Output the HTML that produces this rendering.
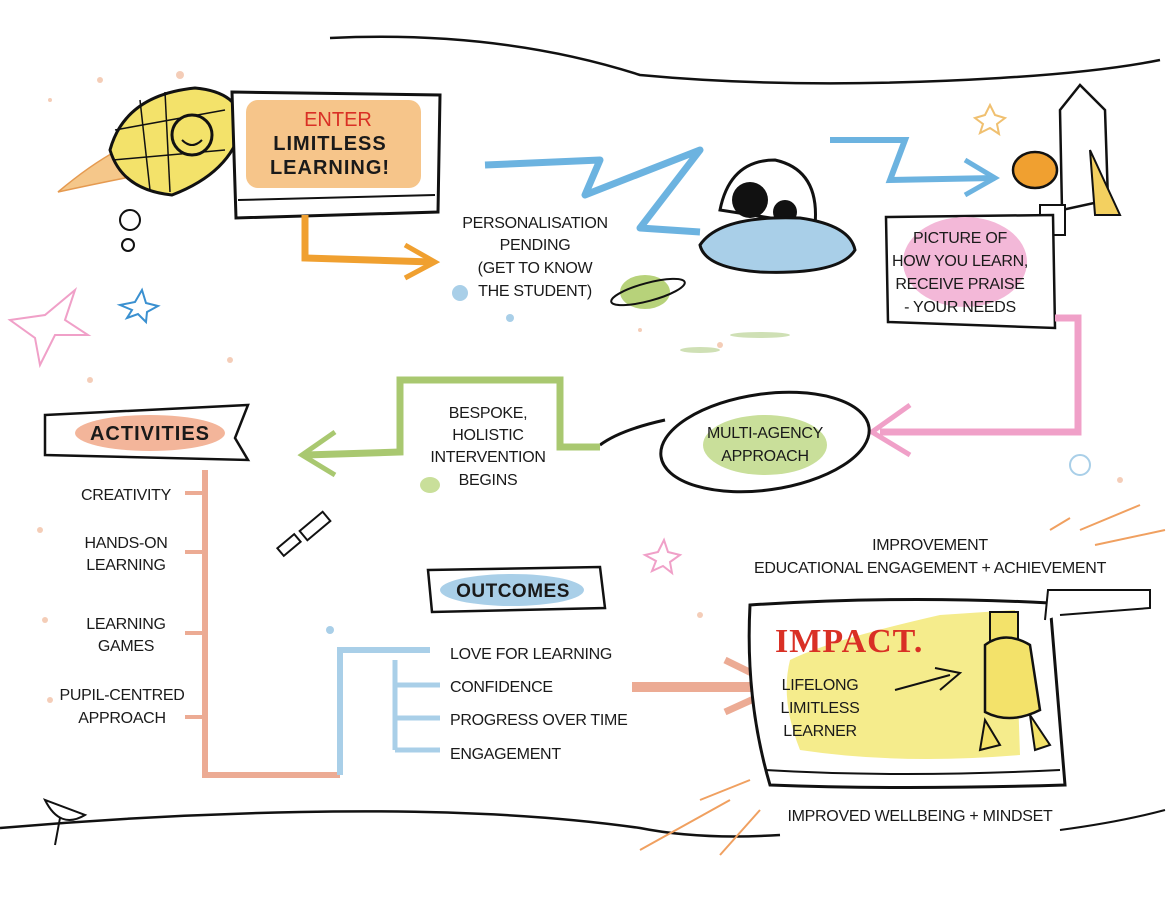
<!DOCTYPE html>
<html><head><meta charset="utf-8"><style>
html,body{margin:0;padding:0;background:#fff;}
svg{display:block}
text{font-family:"Liberation Sans",sans-serif;fill:#1a1a1a;}
.t{font-size:16px;letter-spacing:-0.3px}
</style></head><body>
<svg width="1170" height="912" viewBox="0 0 1170 912" xmlns="http://www.w3.org/2000/svg">
<rect width="1170" height="912" fill="#fff"/>
<path d="M330 38 Q500 30 640 75 Q800 90 1000 78 Q1100 72 1160 60" stroke="#111" stroke-width="2.5" fill="none"/>
<path d="M0 828 Q150 815 300 812 Q500 808 640 828 Q700 840 780 835" stroke="#111" stroke-width="2.5" fill="none"/>
<path d="M1060 830 Q1120 822 1165 810" stroke="#111" stroke-width="2" fill="none"/>
<g fill="#f0b89a" opacity="0.7">
<circle cx="100" cy="80" r="3"/><circle cx="180" cy="75" r="4"/><circle cx="50" cy="100" r="2"/><circle cx="230" cy="360" r="3"/><circle cx="90" cy="380" r="3"/><circle cx="40" cy="530" r="3"/><circle cx="45" cy="620" r="3"/><circle cx="50" cy="700" r="3"/><circle cx="700" cy="615" r="3"/><circle cx="1120" cy="480" r="3"/><circle cx="640" cy="330" r="2"/><circle cx="720" cy="345" r="3"/>
</g>
<g fill="#cfe0b5"><ellipse cx="760" cy="335" rx="30" ry="3"/><ellipse cx="700" cy="350" rx="20" ry="3"/></g>
<g fill="#a9cfe8"><circle cx="460" cy="293" r="8"/><circle cx="510" cy="318" r="4"/><circle cx="330" cy="630" r="4"/><circle cx="1080" cy="465" r="10" fill="none" stroke="#a9cfe8" stroke-width="2"/></g>
<path d="M10 320 L45 315 L75 290 L65 320 L88 335 L55 335 L40 365 L35 338 Z" fill="none" stroke="#f0a0c8" stroke-width="2"/>
<path d="M120 305 L135 302 L142 290 L146 303 L158 306 L147 312 L146 322 L138 314 L127 318 L132 310 Z" fill="none" stroke="#3a90d0" stroke-width="2"/>
<path d="M975 118 L985 115 L990 105 L995 115 L1005 118 L997 124 L999 134 L990 128 L980 133 L983 124 Z" fill="none" stroke="#f0c070" stroke-width="2"/>
<path d="M645 555 L658 552 L664 540 L668 552 L680 555 L670 562 L672 573 L663 566 L652 571 L656 561 Z" fill="none" stroke="#f0a0c8" stroke-width="2"/>
<!-- rocket -->
<path d="M58 192 Q90 165 118 150 L125 178 Q90 185 58 192Z" fill="#f5c78a" stroke="#e59a50" stroke-width="1.5"/>
<path d="M110 150 Q125 95 195 88 Q240 92 242 125 Q232 172 172 195 Q122 190 110 150Z" fill="#f3e26a" stroke="#111" stroke-width="3"/>
<g stroke="#111" stroke-width="1.5"><line x1="140" y1="100" x2="150" y2="190"/><line x1="165" y1="92" x2="170" y2="192"/><line x1="115" y1="130" x2="225" y2="110"/><line x1="113" y1="160" x2="225" y2="150"/></g>
<circle cx="192" cy="135" r="20" fill="#f3e26a" stroke="#111" stroke-width="3"/>
<path d="M182 140 Q192 150 202 140" stroke="#111" stroke-width="2" fill="none"/>
<circle cx="130" cy="220" r="10" fill="none" stroke="#111" stroke-width="2"/><circle cx="128" cy="245" r="6" fill="none" stroke="#111" stroke-width="2"/>
<!-- enter box -->
<path d="M232 92 L440 95 L438 212 L236 218 Z" fill="#fff" stroke="#111" stroke-width="3"/>
<path d="M238 200 L435 195" stroke="#111" stroke-width="2"/>
<rect x="246" y="100" width="175" height="88" rx="12" fill="#f6c58a"/>
<text x="338" y="126" text-anchor="middle" style="font-size:20px;fill:#d93025">ENTER</text>
<text x="330" y="150" text-anchor="middle" style="font-size:20px;font-weight:bold;letter-spacing:1px">LIMITLESS</text>
<text x="330" y="174" text-anchor="middle" style="font-size:20px;font-weight:bold;letter-spacing:1px">LEARNING!</text>
<path d="M305 215 L305 258 L432 262" stroke="#f0a030" stroke-width="7" fill="none"/>
<path d="M405 245 L435 262 L405 278" stroke="#f0a030" stroke-width="5" fill="none"/>
<path d="M485 165 L600 160 L585 195 L700 150 L640 228 L700 232" stroke="#6cb3e0" stroke-width="7" fill="none" stroke-linejoin="round"/>
<text x="535" y="228" text-anchor="middle" class="t">PERSONALISATION</text>
<text x="535" y="250" text-anchor="middle" class="t">PENDING</text>
<text x="535" y="273" text-anchor="middle" class="t">(GET TO KNOW</text>
<text x="535" y="296" text-anchor="middle" class="t">THE STUDENT)</text>
<ellipse cx="645" cy="292" rx="25" ry="17" fill="#b7d27a"/>
<ellipse cx="648" cy="292" rx="38" ry="9" fill="none" stroke="#111" stroke-width="2" transform="rotate(-15 648 292)"/>
<!-- UFO -->
<path d="M720 210 Q730 160 775 160 Q820 170 815 225 Z" fill="#fff" stroke="#111" stroke-width="3"/>
<circle cx="750" cy="200" r="18" fill="#111"/><circle cx="785" cy="212" r="12" fill="#111"/>
<path d="M700 245 Q720 215 800 218 Q850 225 855 250 Q840 275 760 272 Q705 268 700 245Z" fill="#a9cfe8" stroke="#111" stroke-width="3"/>
<path d="M830 140 L905 140 L890 180 L995 178" stroke="#6cb3e0" stroke-width="6" fill="none"/>
<path d="M965 160 L995 178 L965 195" stroke="#6cb3e0" stroke-width="5" fill="none"/>
<!-- robot top right -->
<path d="M1060 110 L1080 85 L1105 110 L1108 200 L1062 210 Z" fill="#fff" stroke="#111" stroke-width="2.5"/>
<ellipse cx="1035" cy="170" rx="22" ry="18" fill="#f0a030" stroke="#111" stroke-width="2.5"/>
<path d="M1090 150 L1120 215 L1095 215Z" fill="#f3d060" stroke="#111" stroke-width="2"/>
<rect x="1040" y="205" width="25" height="30" fill="#fff" stroke="#111" stroke-width="2"/>
<!-- picture box -->
<path d="M886 217 L1053 215 L1055 328 L888 322 Z" fill="#fff" stroke="#111" stroke-width="2.5"/>
<ellipse cx="965" cy="262" rx="62" ry="45" fill="#f3b8d8"/>
<text x="960" y="243" text-anchor="middle" class="t">PICTURE OF</text>
<text x="960" y="266" text-anchor="middle" class="t">HOW YOU LEARN,</text>
<text x="960" y="289" text-anchor="middle" class="t">RECEIVE PRAISE</text>
<text x="960" y="312" text-anchor="middle" class="t">- YOUR NEEDS</text>
<path d="M1055 318 L1078 318 L1078 432 L880 432" stroke="#f0a0c8" stroke-width="7" fill="none"/>
<path d="M910 405 L872 432 L910 455" stroke="#f0a0c8" stroke-width="5" fill="none"/>
<ellipse cx="765" cy="442" rx="105" ry="48" fill="#fff" stroke="#111" stroke-width="3" transform="rotate(-8 765 442)"/>
<ellipse cx="765" cy="445" rx="62" ry="30" fill="#c9df9a"/>
<text x="765" y="438" text-anchor="middle" class="t">MULTI-AGENCY</text>
<text x="765" y="461" text-anchor="middle" class="t">APPROACH</text>
<path d="M665 420 Q620 430 600 445" stroke="#111" stroke-width="3" fill="none"/>
<path d="M600 447 L560 447 L560 380 L400 380 L400 452 L305 455" stroke="#a9c870" stroke-width="7" fill="none"/>
<path d="M335 432 L302 455 L335 475" stroke="#a9c870" stroke-width="5" fill="none"/>
<text x="488" y="418" text-anchor="middle" class="t">BESPOKE,</text>
<text x="488" y="440" text-anchor="middle" class="t">HOLISTIC</text>
<text x="488" y="462" text-anchor="middle" class="t">INTERVENTION</text>
<text x="488" y="485" text-anchor="middle" class="t">BEGINS</text>
<ellipse cx="430" cy="485" rx="10" ry="8" fill="#c9df9a"/>
<path d="M45 415 L248 405 L235 438 L248 460 L45 455 Z" fill="#fff" stroke="#111" stroke-width="2.5"/>
<ellipse cx="150" cy="433" rx="75" ry="18" fill="#f3b59a"/>
<text x="150" y="440" text-anchor="middle" style="font-size:20px;font-weight:bold;letter-spacing:1px">ACTIVITIES</text>
<path d="M205 470 L205 775 L340 775" stroke="#ecab94" stroke-width="6" fill="none"/>
<g stroke="#ecab94" stroke-width="4"><line x1="185" y1="493" x2="205" y2="493"/><line x1="185" y1="552" x2="205" y2="552"/><line x1="185" y1="633" x2="205" y2="633"/><line x1="185" y1="717" x2="205" y2="717"/></g>
<text x="126" y="500" text-anchor="middle" class="t">CREATIVITY</text>
<text x="126" y="548" text-anchor="middle" class="t">HANDS-ON</text>
<text x="126" y="570" text-anchor="middle" class="t">LEARNING</text>
<text x="126" y="629" text-anchor="middle" class="t">LEARNING</text>
<text x="126" y="651" text-anchor="middle" class="t">GAMES</text>
<text x="122" y="700" text-anchor="middle" class="t">PUPIL-CENTRED</text>
<text x="122" y="723" text-anchor="middle" class="t">APPROACH</text>
<g stroke="#111" stroke-width="2" fill="#fff"><rect x="300" y="520" width="30" height="12" transform="rotate(-40 315 526)"/><rect x="278" y="540" width="22" height="10" transform="rotate(-40 289 545)"/></g>
<path d="M340 775 L340 650 L430 650" stroke="#a9cfe8" stroke-width="6" fill="none"/>
<path d="M395 660 L395 750 M395 685 L440 685 M395 718 L440 718 M395 750 L440 750" stroke="#a9cfe8" stroke-width="5" fill="none"/>
<path d="M428 570 L600 567 L605 608 L432 612 Z" fill="#fff" stroke="#111" stroke-width="2.5"/>
<ellipse cx="512" cy="590" rx="72" ry="16" fill="#a9cfe8"/>
<text x="513" y="597" text-anchor="middle" style="font-size:19px;font-weight:bold;letter-spacing:0.5px">OUTCOMES</text>
<text x="450" y="659" class="t">LOVE FOR LEARNING</text>
<text x="450" y="692" class="t">CONFIDENCE</text>
<text x="450" y="725" class="t">PROGRESS OVER TIME</text>
<text x="450" y="759" class="t">ENGAGEMENT</text>
<path d="M632 687 L775 687" stroke="#ecab94" stroke-width="10" fill="none"/>
<path d="M725 660 L780 687 L725 712" stroke="#ecab94" stroke-width="7" fill="none"/>
<text x="930" y="550" text-anchor="middle" class="t">IMPROVEMENT</text>
<text x="930" y="573" text-anchor="middle" class="t">EDUCATIONAL ENGAGEMENT + ACHIEVEMENT</text>
<path d="M750 605 Q900 595 1050 603 L1065 785 Q900 790 770 785 Q745 700 750 605Z" fill="#fff" stroke="#111" stroke-width="3"/>
<path d="M765 770 Q900 778 1060 770" stroke="#111" stroke-width="2" fill="none"/>
<path d="M790 660 Q830 640 940 615 L1015 610 L1020 755 Q900 765 800 750 Q780 700 790 660Z" fill="#f5ec8c"/>
<text x="775" y="652" style="font-size:34px;font-weight:bold;fill:#d93025;font-family:'Liberation Serif',serif;letter-spacing:1px">IMPACT.</text>
<text x="820" y="690" text-anchor="middle" class="t">LIFELONG</text>
<text x="820" y="713" text-anchor="middle" class="t">LIMITLESS</text>
<text x="820" y="736" text-anchor="middle" class="t">LEARNER</text>
<path d="M895 690 L950 675 M935 668 L960 673 L940 690" stroke="#111" stroke-width="2" fill="none"/>
<rect x="990" y="612" width="28" height="30" fill="#f3e26a" stroke="#111" stroke-width="2"/>
<path d="M985 645 Q1005 630 1030 645 L1040 710 Q1010 725 985 712Z" fill="#f3e26a" stroke="#111" stroke-width="2.5"/>
<path d="M985 720 L1000 745 L980 750 Z M1030 715 L1050 745 L1035 750Z" fill="#f3e26a" stroke="#111" stroke-width="2"/>
<path d="M1045 620 L1048 590 L1150 590 L1150 608 L1060 615" stroke="#111" stroke-width="2" fill="#fff"/>
<text x="920" y="821" text-anchor="middle" class="t">IMPROVED WELLBEING + MINDSET</text>
<g stroke="#f0a060" stroke-width="2"><line x1="1080" y1="530" x2="1140" y2="505"/><line x1="1095" y1="545" x2="1165" y2="530"/><line x1="1050" y1="530" x2="1070" y2="518"/><line x1="700" y1="800" x2="750" y2="780"/><line x1="640" y1="850" x2="730" y2="800"/><line x1="720" y1="855" x2="760" y2="810"/></g>
<path d="M45 800 Q60 830 85 815 Z" fill="#fff" stroke="#111" stroke-width="2"/><line x1="60" y1="818" x2="55" y2="845" stroke="#111" stroke-width="2"/>
</svg>
</body></html>
